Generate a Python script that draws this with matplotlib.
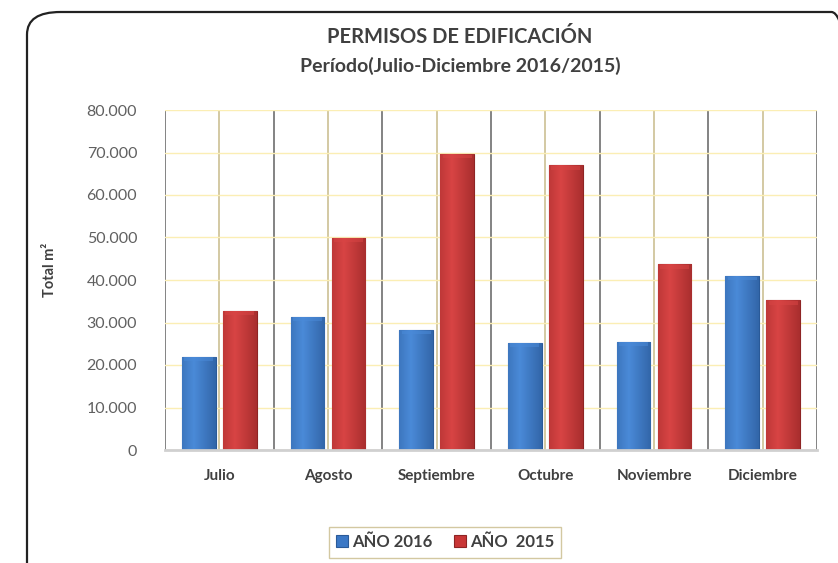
import numpy as np
import matplotlib
matplotlib.use("Agg")
import matplotlib.pyplot as plt
from matplotlib.patches import FancyBboxPatch
from matplotlib.ticker import FuncFormatter

meses = ["Julio", "Agosto", "Septiembre", "Octubre", "Noviembre", "Diciembre"]
anio_2016 = [21900, 31400, 28200, 25250, 25400, 40900]
anio_2015 = [32700, 49900, 69600, 67000, 43700, 35200]

plt.rcParams['font.family'] = ['Lato', 'DejaVu Sans']

fig = plt.figure(figsize=(8.38, 5.63), dpi=100)

# rounded frame around the chart
frame = FancyBboxPatch((27 / 838, -0.05), 1.0, 1 - 12 / 563 + 0.05,
                       boxstyle="round,pad=0,rounding_size=0.04",
                       transform=fig.transFigure, fill=False,
                       edgecolor="#222222", linewidth=1.6, clip_on=False)
fig.patches.append(frame)

ax = fig.add_axes([165 / 838, 1 - 450 / 563, 652 / 838, 340 / 563])

x = np.arange(len(meses))
w = 0.31


def gradient_bars(bars, dark, light):
    # horizontal shading so the bars look rounded like the original
    grad = np.linspace(0, 1, 64)
    grad = 1 - np.abs(grad - 0.35) * 1.2
    cmap = matplotlib.colors.LinearSegmentedColormap.from_list("g", [dark, light])
    for b in bars:
        bx, by = b.get_x(), b.get_y()
        bw, bh = b.get_width(), b.get_height()
        im = ax.imshow(grad.reshape(1, -1), cmap=cmap, aspect="auto",
                       extent=[bx, bx + bw, by, by + bh], zorder=3,
                       vmin=0, vmax=1)
        im.set_clip_path(b)
        # bevelled top cap
        ax.bar(bx + bw / 2, 900, width=bw * 0.86, bottom=by + bh - 1000,
               color=light, alpha=0.55, zorder=4, linewidth=0)


b16 = ax.bar(x - 0.19, anio_2016, width=w, color="#3b78c6", edgecolor="#2a5a98",
             linewidth=0.8, zorder=3, label="AÑO 2016")
b15 = ax.bar(x + 0.19, anio_2015, width=w, color="#c93636", edgecolor="#8e2424",
             linewidth=0.8, zorder=3, label="AÑO  2015")
gradient_bars(b16, "#2c5c9c", "#4a8ad8")
gradient_bars(b15, "#9c2828", "#d84444")

ax.set_xlim(-0.5, len(meses) - 0.5)
ax.set_ylim(0, 80000)
ax.set_yticks(np.arange(0, 80001, 10000))
ax.yaxis.set_major_formatter(FuncFormatter(lambda v, p: f"{int(v):,}".replace(",", ".")))
ax.grid(axis="y", color="#fbeeb4", linewidth=1, zorder=0)

# vertical lines: dark between months, tan at each month centre
for i in range(len(meses) + 1):
    ax.axvline(i - 0.5, color="#7a7a7a", linewidth=1.3, zorder=1)
for i in range(len(meses)):
    ax.axvline(i, color="#c8bb8a", linewidth=1.1, zorder=1)

ax.set_xticks(x)
ax.set_xticklabels(meses, fontweight="bold", fontsize=11, color="#404040")
ax.tick_params(axis="both", length=0)
ax.tick_params(axis="x", pad=14)
ax.tick_params(axis="y", labelsize=11.5, labelcolor="#606060", pad=20)

for s in ["top", "right", "left"]:
    ax.spines[s].set_visible(False)
ax.spines["bottom"].set_color("#d0d0d0")
ax.spines["bottom"].set_linewidth(2)
ax.spines["bottom"].set_zorder(5)

ax.set_ylabel("Total m²", fontweight="bold", fontsize=10.5, color="#404040")
ax.yaxis.set_label_coords((57 - 165) / 652, 0.53)

fig.text(460 / 838, 1 - 37 / 563, "PERMISOS DE EDIFICACIÓN", ha="center", va="center",
         fontsize=14.5, fontweight="bold", color="#404040")
fig.text(460 / 838, 1 - 66 / 563, "Período(Julio-Diciembre 2016/2015)", ha="center",
         va="center", fontsize=14, fontweight="bold", color="#404040")

leg = fig.legend(handles=[b16, b15], loc="center", bbox_to_anchor=(445 / 838, 1 - 542 / 563),
                 ncol=2, frameon=True, fancybox=False, fontsize=12, handlelength=0.7,
                 handleheight=0.7, columnspacing=1.3, handletextpad=0.25, borderpad=0.45,
                 borderaxespad=0)
leg.get_frame().set_edgecolor("#c8bb8a")
for t in leg.get_texts():
    t.set_fontweight("bold")
    t.set_color("#404040")

fig.savefig("out.png", dpi=100)
